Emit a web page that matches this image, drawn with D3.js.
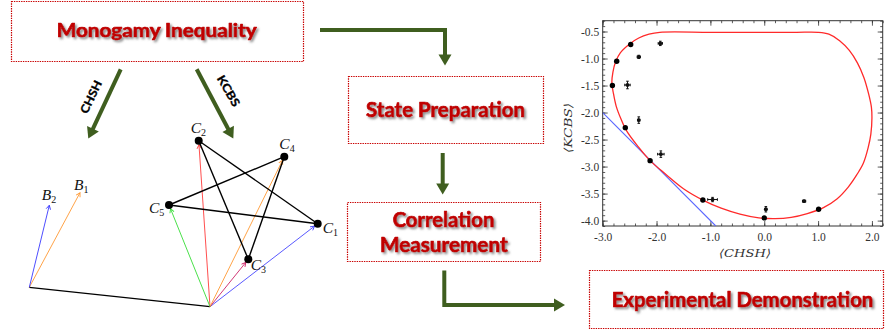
<!DOCTYPE html>
<html>
<head>
<meta charset="utf-8">
<script src="https://cdn.jsdelivr.net/npm/d3@7"></script>
<style>
  html, body { margin: 0; padding: 0; background: #fff; }
  svg { display: block; }
</style>
</head>
<body>
<svg id="fig" width="886" height="330"></svg>
<script>
// ---------------- data ----------------
// flowchart steps
const stepLabels = [["Monogamy Inequality"], ["State Preparation"], ["Correlation", "Measurement"], ["Experimental Demonstration"]];
const branchLabels = ["CHSH", "KCBS"];

// CHSH measurement directions (diagram units, origin at Bob's base point)
const bNames = ["B1", "B2"];
const bX = [5.07, 2.0];
const bY = [9.46, 8.2];
const bBase = [0, 0];

// KCBS measurement directions (pentagram C1..C5)
const cNames = ["C1", "C2", "C3", "C4", "C5"];
const cX = [28.84, 16.94, 21.9, 25.5, 13.97];
const cY = [6.36, 14.66, 2.8, 13.06, 8.23];
const cBase = [18.07, -1.94];
const cEdges = [[0, 1], [1, 2], [2, 3], [3, 4], [4, 0]];

// plot: axes ticks
const chshTicks = [-3.0, -2.0, -1.0, 0.0, 1.0, 2.0];
const kcbsTicks = [-0.5, -1.0, -1.5, -2.0, -2.5, -3.0, -3.5, -4.0];

// monogamy boundary (closed curve, clockwise from top-left)
const boundaryCHSH = [-1.94, -1.0, 0.0, 0.6, 1.0, 1.2, 1.4, 1.58, 1.73, 1.85, 1.94, 1.99, 2.0,
  1.98, 1.93, 1.84, 1.72, 1.56, 1.35, 1.10, 0.80, 0.50, 0.20, -0.10, -0.45, -0.80, -1.14, -1.50,
  -1.82, -2.12, -2.35, -2.55, -2.66, -2.75, -2.80, -2.83, -2.81, -2.76, -2.67, -2.50, -2.33, -2.14];
const boundaryKCBS = [-0.515, -0.515, -0.515, -0.515, -0.515, -0.55, -0.67, -0.85, -1.08, -1.35, -1.66, -1.90, -2.10,
  -2.40, -2.65, -2.94, -3.15, -3.38, -3.60, -3.76, -3.87, -3.94, -3.965, -3.95, -3.88, -3.77, -3.62, -3.41,
  -3.15, -2.89, -2.62, -2.35, -2.12, -1.88, -1.65, -1.45, -1.25, -1.06, -0.89, -0.73, -0.62, -0.55];

// local bound  <KCBS> = -<CHSH> - 5
const boundCHSH = [-3.0, -0.9];
const boundKCBS = [-2.0, -4.1];

// prepared states (points on the boundary)
const stateCHSH = [-2.82, -2.74, -2.48, -2.58, -2.12, -1.14, 0.0, 1.01];
const stateKCBS = [-1.50, -1.05, -0.74, -2.28, -2.89, -3.62, -3.95, -3.79];

// measured values with error bars
const measCHSH = [-1.93, -2.33, -2.54, -2.33, -1.92, -0.96, 0.03, 0.74];
const measKCBS = [-0.72, -0.97, -1.49, -2.14, -2.77, -3.61, -3.79, -3.64];
const errCHSH  = [0.04, 0.03, 0.05, 0.02, 0.06, 0.09, 0.02, 0.03];
const errKCBS  = [0.04, 0.03, 0.07, 0.06, 0.06, 0.04, 0.05, 0.02];

// ---------------- layout & style ----------------
const RED = "#c00000";
const GREEN = "#3f5e1f";
const boxes = [
  { x: 11, y: 1, w: 292, h: 60, size: 18, lines: [{ cx: 156.7, by: 36.7, len: 200 }] },
  { x: 348, y: 76, w: 195, h: 67, size: 20, lines: [{ cx: 445.5, by: 117.3, len: 159 }] },
  { x: 347, y: 202, w: 193, h: 59, size: 20, lines: [{ cx: 443.5, by: 226.7, len: 101.7 }, { cx: 443.8, by: 252.3, len: 127.7 }] },
  { x: 589, y: 270, w: 294, h: 58, size: 20, lines: [{ cx: 742.5, by: 306.7, len: 261.7 }] }
];
const flowArrows = [
  [[320, 30], [445, 30], [445, 65.5]],
  [[442.7, 153], [442.7, 194.5]],
  [[444.3, 270.5], [444.3, 305], [565, 305]],
  [[120.7, 69.3], [88.3, 138.6]],
  [[196.7, 69.3], [233.3, 138.6]]
];
const branchLayout = [
  { x: 91, y: 97, rot: -64, len: 35 },
  { x: 228.5, y: 91, rot: 60, len: 34 }
];
const vecColor = { B1: "#ff9933", B2: "#3a3aff", C1: "#4646ff", C2: "#ff3b3b", C3: "#cc2266", C4: "#ff9933", C5: "#35dd35" };
const labelOffset = { B1: [-6, -2.7], B2: [-7.6, -5.3], C1: [5, 9], C2: [-8, -8], C3: [2.4, 10.7], C4: [-5, -7.4], C5: [-20, 8.3] };

const svg = d3.select("#fig");
const defs = svg.append("defs");

const shadow = defs.append("filter").attr("id", "shadow")
  .attr("x", "-10%").attr("y", "-40%").attr("width", "130%").attr("height", "190%");
shadow.append("feDropShadow").attr("dx", 1.8).attr("dy", 1.8).attr("stdDeviation", 1)
  .attr("flood-color", "#6f6f6f").attr("flood-opacity", 0.8);

Object.entries(vecColor).forEach(([k, c]) => {
  defs.append("marker").attr("id", "tip-" + k)
    .attr("viewBox", "-6 -4 8 8").attr("refX", 0).attr("refY", 0)
    .attr("markerUnits", "userSpaceOnUse").attr("markerWidth", 8).attr("markerHeight", 8)
    .attr("orient", "auto")
    .append("path").attr("d", "M-4,-2.2 L0,0 L-4,2.2").attr("fill", "none")
    .attr("stroke", c).attr("stroke-width", 0.9);
});

// ---------------- flowchart boxes ----------------
const boxG = svg.append("g");
boxes.forEach((b, i) => {
  boxG.append("rect").attr("x", b.x + 0.5).attr("y", b.y + 0.5).attr("width", b.w).attr("height", b.h)
    .attr("fill", "#fff").attr("stroke", "#c80000").attr("stroke-width", 1.2)
    .attr("stroke-dasharray", "1.4,1");
  stepLabels[i].forEach((t, j) => {
    const L = b.lines[j];
    boxG.append("text").attr("x", L.cx).attr("y", L.by)
      .attr("text-anchor", "middle")
      .attr("font-family", "Lato, 'Open Sans', sans-serif").attr("font-weight", 700)
      .attr("font-size", b.size).attr("fill", RED)
      .attr("stroke", RED).attr("stroke-width", 0.7).attr("stroke-linejoin", "round")
      .attr("textLength", L.len).attr("lengthAdjust", "spacingAndGlyphs")
      .attr("filter", "url(#shadow)")
      .text(t);
  });
});

// ---------------- thick arrows ----------------
function thickArrow(pts, head = 11, half = 6.5, w = 4) {
  const n = pts.length;
  const [x1, y1] = pts[n - 2], [x2, y2] = pts[n - 1];
  const dx = x2 - x1, dy = y2 - y1, d = Math.hypot(dx, dy);
  const ux = dx / d, uy = dy / d;
  const bx = x2 - ux * head, by = y2 - uy * head;
  const line = pts.slice(0, n - 1).concat([[bx + ux, by + uy]]);
  svg.append("path").attr("d", d3.line()(line)).attr("fill", "none")
    .attr("stroke", GREEN).attr("stroke-width", w).attr("stroke-linejoin", "miter");
  svg.append("path")
    .attr("d", `M${x2},${y2} L${bx - uy * half},${by + ux * half} L${bx + uy * half},${by - ux * half} Z`)
    .attr("fill", GREEN);
}
flowArrows.forEach(p => thickArrow(p));

branchLabels.forEach((t, i) => {
  const L = branchLayout[i];
  svg.append("text").attr("transform", `translate(${L.x},${L.y}) rotate(${L.rot})`)
    .attr("text-anchor", "middle").attr("dy", "0.35em")
    .attr("font-family", "Lato, 'Open Sans', sans-serif").attr("font-weight", 700)
    .attr("font-size", 11.5).attr("fill", "#000")
    .attr("stroke", "#000").attr("stroke-width", 0.3)
    .attr("textLength", L.len).attr("lengthAdjust", "spacingAndGlyphs")
    .text(t);
});

// ---------------- measurement-direction diagram ----------------
const gx = d3.scaleLinear().domain([0, 30]).range([29.3, 329.3]);
const gy = d3.scaleLinear().domain([0, 15]).range([287.3, 137.3]);
const dg = svg.append("g");

// link between the two parties
dg.append("line").attr("x1", gx(bBase[0])).attr("y1", gy(bBase[1]))
  .attr("x2", gx(cBase[0])).attr("y2", gy(cBase[1])).attr("stroke", "#000").attr("stroke-width", 1.3);

function vector(base, x, y, name, shorten) {
  const x0 = gx(base[0]), y0 = gy(base[1]);
  let x1 = gx(x), y1 = gy(y);
  const d = Math.hypot(x1 - x0, y1 - y0);
  x1 -= (x1 - x0) / d * shorten; y1 -= (y1 - y0) / d * shorten;
  dg.append("line").attr("x1", x0).attr("y1", y0).attr("x2", x1).attr("y2", y1)
    .attr("stroke", vecColor[name]).attr("stroke-width", 0.9)
    .attr("marker-end", `url(#tip-${name})`);
}
bNames.forEach((n, i) => vector(bBase, bX[i], bY[i], n, 0));
cNames.forEach((n, i) => vector(cBase, cX[i], cY[i], n, 4));

cEdges.forEach(([a, b]) => {
  dg.append("line").attr("x1", gx(cX[a])).attr("y1", gy(cY[a])).attr("x2", gx(cX[b])).attr("y2", gy(cY[b]))
    .attr("stroke", "#000").attr("stroke-width", 1.4);
});
cNames.forEach((n, i) => {
  dg.append("circle").attr("cx", gx(cX[i])).attr("cy", gy(cY[i])).attr("r", 4).attr("fill", "#000");
});

function vecLabel(name, x, y) {
  const [ox, oy] = labelOffset[name];
  const t = dg.append("text").attr("x", gx(x) + ox).attr("y", gy(y) + oy)
    .attr("font-family", "'Liberation Serif', 'DejaVu Serif', serif").attr("font-style", "italic")
    .attr("font-size", 15.5).attr("fill", "#111");
  t.append("tspan").text(name[0]);
  t.append("tspan").attr("font-style", "normal").attr("font-size", 10).attr("dy", 3).text(name.slice(1));
}
bNames.forEach((n, i) => vecLabel(n, bX[i], bY[i]));
cNames.forEach((n, i) => vecLabel(n, cX[i], cY[i]));

// ---------------- CHSH / KCBS plot ----------------
const px = d3.scaleLinear().domain([-3.0, 2.2]).range([602.7, 882.7]);
const py = d3.scaleLinear().domain([-4.1, -0.3]).range([226, 20.7]);
const pg = svg.append("g");

defs.append("clipPath").attr("id", "plotclip").append("rect")
  .attr("x", px.range()[0]).attr("y", py.range()[1])
  .attr("width", px.range()[1] - px.range()[0]).attr("height", py.range()[0] - py.range()[1]);

const xMinor = d3.range(-30, 23, 2).map(v => v / 10);
const yMinor = d3.range(-41, -2, 1).map(v => v / 10);

function styleAxis(g) {
  g.select(".domain").remove();
  g.selectAll("line").attr("stroke", "#333").attr("stroke-width", 0.8);
  g.selectAll("text").attr("font-family", "'Liberation Serif', 'DejaVu Serif', serif")
    .attr("font-size", 11.5).attr("fill", "#333");
}
const fmt = d => d.toFixed(1);
const X0 = px.range()[0], X1 = px.range()[1], Y0 = py.range()[0], Y1 = py.range()[1];

// minor ticks on all sides
pg.append("g").attr("transform", `translate(0,${Y0})`).call(d3.axisBottom(px).tickValues(xMinor).tickSize(-2.5).tickFormat("")).call(styleAxis);
pg.append("g").attr("transform", `translate(0,${Y1})`).call(d3.axisTop(px).tickValues(xMinor).tickSize(-2.5).tickFormat("")).call(styleAxis);
pg.append("g").attr("transform", `translate(${X0},0)`).call(d3.axisLeft(py).tickValues(yMinor).tickSize(-2.5).tickFormat("")).call(styleAxis);
pg.append("g").attr("transform", `translate(${X1},0)`).call(d3.axisRight(py).tickValues(yMinor).tickSize(-2.5).tickFormat("")).call(styleAxis);
// major ticks
pg.append("g").attr("transform", `translate(0,${Y0})`).call(d3.axisBottom(px).tickValues(chshTicks).tickSize(-5).tickPadding(7.2).tickFormat(fmt)).call(styleAxis);
pg.append("g").attr("transform", `translate(0,${Y1})`).call(d3.axisTop(px).tickValues(chshTicks).tickSize(-5).tickFormat("")).call(styleAxis);
pg.append("g").attr("transform", `translate(${X0},0)`).call(d3.axisLeft(py).tickValues(kcbsTicks).tickSize(-5).tickPadding(3.5).tickFormat(fmt)).call(styleAxis);
pg.append("g").attr("transform", `translate(${X1},0)`).call(d3.axisRight(py).tickValues(kcbsTicks).tickSize(-5).tickFormat("")).call(styleAxis);

pg.append("rect").attr("x", X0).attr("y", Y1).attr("width", X1 - X0).attr("height", Y0 - Y1)
  .attr("fill", "none").attr("stroke", "#333").attr("stroke-width", 1);

const inner = pg.append("g").attr("clip-path", "url(#plotclip)");

// local bound
inner.append("line").attr("x1", px(boundCHSH[0])).attr("y1", py(boundKCBS[0]))
  .attr("x2", px(boundCHSH[1])).attr("y2", py(boundKCBS[1]))
  .attr("stroke", "#5a66ff").attr("stroke-width", 1.1);

// quantum boundary
const boundary = boundaryCHSH.map((v, i) => [v, boundaryKCBS[i]]);
inner.append("path")
  .attr("d", d3.line().x(d => px(d[0])).y(d => py(d[1])).curve(d3.curveCatmullRomClosed.alpha(0.5))(boundary))
  .attr("fill", "none").attr("stroke", "#ff2a2a").attr("stroke-width", 1.3);

// measured points with error bars
measCHSH.forEach((v, i) => {
  const cx = px(v), cy = py(measKCBS[i]);
  const xl = px(v - errCHSH[i]), xr = px(v + errCHSH[i]);
  const yt = py(measKCBS[i] + errKCBS[i]), yb = py(measKCBS[i] - errKCBS[i]);
  const g = inner.append("g").attr("stroke", "#111").attr("stroke-width", 1);
  g.append("line").attr("x1", xl).attr("x2", xr).attr("y1", cy).attr("y2", cy);
  g.append("line").attr("x1", cx).attr("x2", cx).attr("y1", yt).attr("y2", yb);
  g.append("line").attr("x1", xl).attr("x2", xl).attr("y1", cy - 1.3).attr("y2", cy + 1.3);
  g.append("line").attr("x1", xr).attr("x2", xr).attr("y1", cy - 1.3).attr("y2", cy + 1.3);
  g.append("line").attr("x1", cx - 1.3).attr("x2", cx + 1.3).attr("y1", yt).attr("y2", yt);
  g.append("line").attr("x1", cx - 1.3).attr("x2", cx + 1.3).attr("y1", yb).attr("y2", yb);
  inner.append("circle").attr("cx", cx).attr("cy", cy).attr("r", 1.9).attr("fill", "#111");
});

// prepared states
stateCHSH.forEach((v, i) => {
  inner.append("circle").attr("cx", px(v)).attr("cy", py(stateKCBS[i])).attr("r", 2.7).attr("fill", "#000");
});

// axis titles
pg.append("text").attr("x", 745).attr("y", 257).attr("text-anchor", "middle")
  .attr("font-family", "'DejaVu Serif', 'Liberation Serif', serif").attr("font-style", "italic")
  .attr("font-size", 11).attr("fill", "#333")
  .attr("textLength", 52).attr("lengthAdjust", "spacingAndGlyphs")
  .text("\u27E8CHSH\u27E9");
pg.append("text").attr("transform", "translate(572,128) rotate(-90)").attr("text-anchor", "middle")
  .attr("font-family", "'DejaVu Serif', 'Liberation Serif', serif").attr("font-style", "italic")
  .attr("font-size", 11).attr("fill", "#333")
  .attr("textLength", 50).attr("lengthAdjust", "spacingAndGlyphs")
  .text("\u27E8KCBS\u27E9");
</script>
</body>
</html>
